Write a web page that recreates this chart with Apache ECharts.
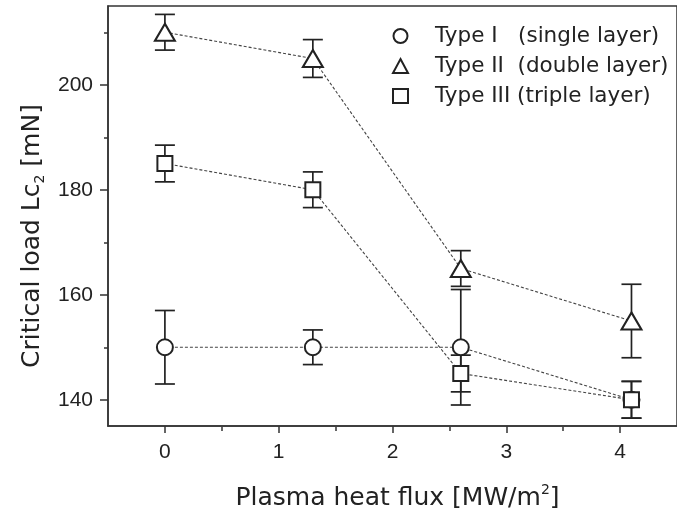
<!DOCTYPE html>
<html>
<head>
<meta charset="utf-8">
<title>Critical load vs plasma heat flux</title>
<script src="https://cdn.jsdelivr.net/npm/echarts@6/dist/echarts.min.js"></script>
<style>
  html, body { margin: 0; padding: 0; background: #fff; }
  #chart { width: 677px; height: 518px; }
</style>
</head>
<body>
<div id="chart"></div>
<script>
// Heat flux levels (MW/m^2)
const flux = [0, 1.3, 2.6, 4.1];

// Critical load Lc2 (mN) and error half-widths per coating type
const typeI = [150, 150, 150, 140];
const typeIErr = [7, 3.3, 11, 3.5];
const typeII = [210, 205, 165, 155];
const typeIIErr = [3.4, 3.6, 3.4, 7];
const typeIII = [185, 180, 145, 140];
const typeIIIErr = [3.5, 3.4, 3.5, 3.5];

// Series names
const names = ['Type I   (single layer)', 'Type II  (double layer)', 'Type III (triple layer)'];

// Tick positions
const xMajor = [0, 1, 2, 3, 4];
const xMinor = [0.5, 1.5, 2.5, 3.5];
const yMajor = [140, 160, 180, 200];
const yMinor = [150, 170, 190, 210];

const FONT = '"Liberation Sans", Arial, Helvetica, sans-serif';
const WIDE = '"DejaVu Sans", "Liberation Sans", Arial, sans-serif';
const INK = '#222';
const AXIS = '#333';

const xRange = { min: -0.5, max: 4.5 };
const yRange = { min: 135, max: 215 };
const gridBox = { left: 108, top: 6, right: -1, bottom: 91 };

function points(vals) {
  return flux.map((x, i) => [x, vals[i]]);
}
function bars(vals, errs) {
  return flux.map((x, i) => [x, vals[i] - errs[i], vals[i] + errs[i]]);
}

function renderErrorBar(params, api) {
  const x = api.value(0);
  const top = api.coord([x, api.value(2)]);
  const bot = api.coord([x, api.value(1)]);
  const hw = 10;
  const style = { stroke: INK, lineWidth: 1.7, fill: null };
  return {
    type: 'group',
    children: [
      { type: 'line', shape: { x1: top[0], y1: top[1], x2: bot[0], y2: bot[1] }, style },
      { type: 'line', shape: { x1: top[0] - hw, y1: top[1], x2: top[0] + hw, y2: top[1] }, style },
      { type: 'line', shape: { x1: bot[0] - hw, y1: bot[1], x2: bot[0] + hw, y2: bot[1] }, style }
    ]
  };
}

function errorSeries(vals, errs) {
  return {
    type: 'custom',
    xAxisIndex: 0,
    yAxisIndex: 0,
    z: 1,
    silent: true,
    renderItem: renderErrorBar,
    encode: { x: 0, y: [1, 2] },
    data: bars(vals, errs)
  };
}

function lineSeries(name, vals, symbol, size) {
  return {
    name,
    type: 'line',
    xAxisIndex: 0,
    yAxisIndex: 0,
    z: 3,
    data: points(vals),
    symbol,
    symbolSize: size,
    showAllSymbol: true,
    itemStyle: { color: INK, borderColor: INK, borderWidth: 1.5 },
    lineStyle: { color: '#444', width: 1.1, type: [3, 2] },
    emphasis: { disabled: true },
    animation: false
  };
}

const chart = echarts.init(document.getElementById('chart'), null, { renderer: 'canvas' });

chart.setOption({
  animation: false,
  backgroundColor: '#fff',
  grid: [
    Object.assign({ show: true, borderColor: AXIS, borderWidth: 1.5, backgroundColor: 'transparent' }, gridBox),
    Object.assign({ show: false }, gridBox)
  ],
  legend: {
    orient: 'vertical',
    left: 387,
    top: 20,
    itemWidth: 15,
    itemHeight: 14,
    itemGap: 8,
    selectedMode: false,
    textStyle: { fontFamily: WIDE, fontSize: 21.5, color: INK, padding: [0, 0, 0, 22] },
    data: [
      { name: names[0], icon: 'emptyCircle' },
      { name: names[1], icon: 'emptyTriangle' },
      { name: names[2], icon: 'emptyRect' }
    ]
  },
  xAxis: [
    {
      type: 'value',
      gridIndex: 0,
      min: xRange.min,
      max: xRange.max,
      axisLine: { onZero: false, lineStyle: { color: AXIS, width: 1.5 } },
      axisTick: { customValues: xMajor, length: 7, lineStyle: { color: AXIS, width: 1.5 } },
      axisLabel: { customValues: xMajor, fontFamily: FONT, fontSize: 21, color: INK, margin: 16 },
      splitLine: { show: false },
      name: 'Plasma heat flux [MW/m{sup|2}]',
      nameLocation: 'middle',
      nameGap: 57,
      nameTextStyle: {
        fontFamily: WIDE, fontSize: 25, color: INK, lineHeight: 30, padding: [0, 0, 0, 10],
        rich: { sup: { fontFamily: WIDE, fontSize: 14, color: INK, verticalAlign: 'top', lineHeight: 14 } }
      }
    },
    {
      type: 'value',
      gridIndex: 1,
      min: xRange.min,
      max: xRange.max,
      position: 'bottom',
      axisLine: { show: false, onZero: false },
      axisTick: { customValues: xMinor, length: 4, lineStyle: { color: AXIS, width: 1.5 } },
      axisLabel: { show: false },
      splitLine: { show: false }
    }
  ],
  yAxis: [
    {
      type: 'value',
      gridIndex: 0,
      min: yRange.min,
      max: yRange.max,
      axisLine: { show: true, onZero: false, lineStyle: { color: AXIS, width: 1.5 } },
      axisTick: { show: true, customValues: yMajor, length: 8, lineStyle: { color: AXIS, width: 1.5 } },
      axisLabel: { customValues: yMajor, fontFamily: FONT, fontSize: 21, color: INK, margin: 15 },
      splitLine: { show: false },
      name: 'Critical load Lc{sub|2} [mN]',
      nameLocation: 'middle',
      nameGap: 58,
      nameTextStyle: {
        fontFamily: WIDE, fontSize: 25, color: INK, lineHeight: 30, padding: [0, 40, 0, 0],
        rich: { sub: { fontFamily: WIDE, fontSize: 14, color: INK, verticalAlign: 'bottom', lineHeight: 14 } }
      }
    },
    {
      type: 'value',
      gridIndex: 1,
      min: yRange.min,
      max: yRange.max,
      position: 'left',
      axisLine: { show: false, onZero: false },
      axisTick: { show: true, customValues: yMinor, length: 4, lineStyle: { color: AXIS, width: 1.5 } },
      axisLabel: { show: false },
      splitLine: { show: false }
    }
  ],
  series: [
    errorSeries(typeI, typeIErr),
    errorSeries(typeII, typeIIErr),
    errorSeries(typeIII, typeIIIErr),
    lineSeries(names[0], typeI, 'emptyCircle', 16),
    lineSeries(names[1], typeII, 'emptyTriangle', [20, 17]),
    lineSeries(names[2], typeIII, 'emptyRect', 15)
  ]
});
</script>
</body>
</html>
